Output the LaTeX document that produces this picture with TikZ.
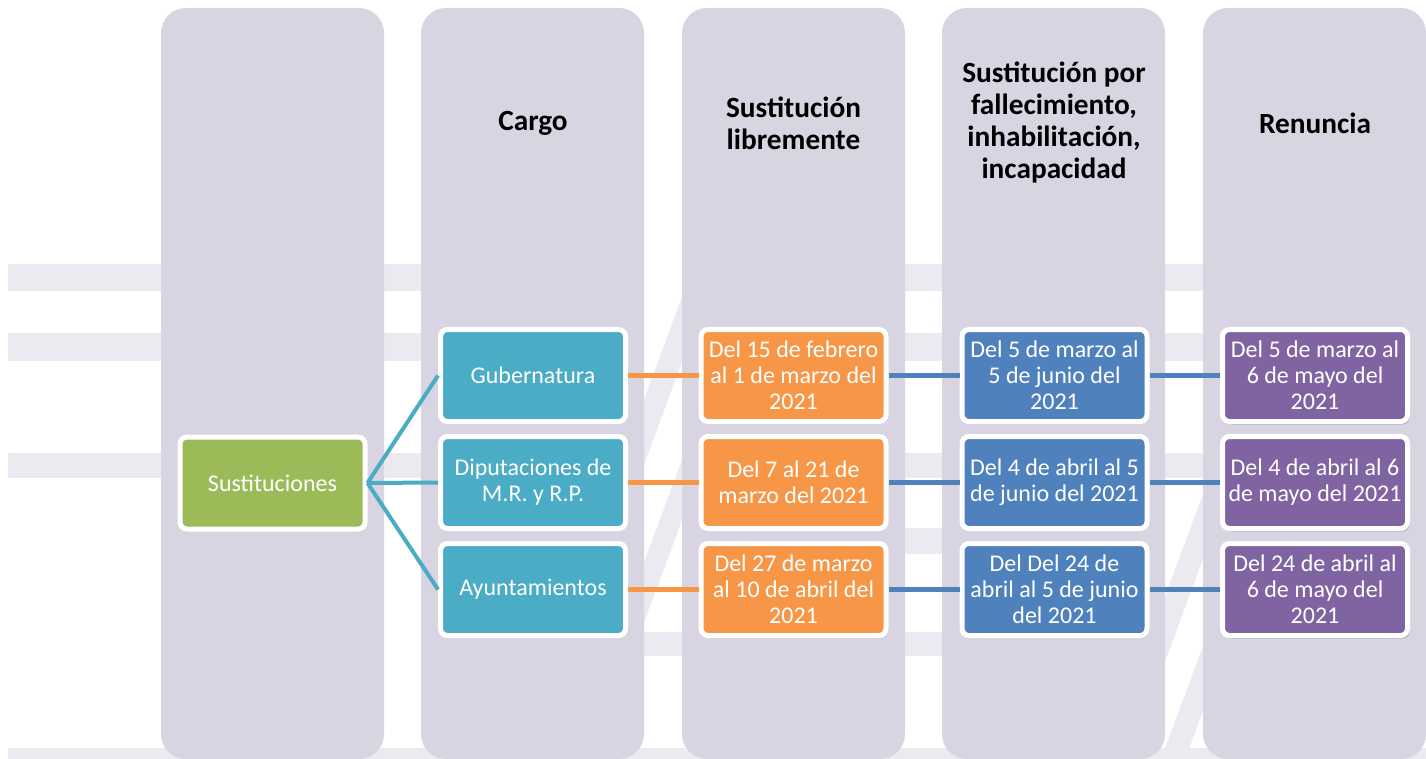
\documentclass[tikz,border=0pt]{standalone}
\usepackage{fontspec}
\setmainfont{Carlito}
\usetikzlibrary{shadows}

\definecolor{colbg}{HTML}{D8D4E2}
\definecolor{bandc}{HTML}{EDE9F1}
\definecolor{cgreen}{HTML}{9BBB59}
\definecolor{cteal}{HTML}{4BACC6}
\definecolor{corange}{HTML}{F79646}
\definecolor{cblue}{HTML}{4F81BD}
\definecolor{cpurple}{HTML}{8064A2}

\begin{document}
\begin{tikzpicture}[x=1pt,y=-1pt,
  colbox/.style={fill=colbg, rounded corners=25pt},
  bandh/.style={fill=bandc},
  hdr/.style={font=\fontsize{29.3}{32}\selectfont\bfseries, align=center, text=black},
  box/.style={draw=white, line width=5pt, rounded corners=7pt, minimum width=185pt, minimum height=92pt, align=center, text=white, font=\fontsize{24}{26}\selectfont, inner sep=0pt},
  gbox/.style={box, fill=cgreen},
  tbox/.style={box, fill=cteal},
  obox/.style={box, fill=corange},
  bbox/.style={box, fill=cblue},
  pbox/.style={box, fill=cpurple, drop shadow={shadow xshift=2pt, shadow yshift=-3pt, opacity=0.35, fill=black!60}},
  tline/.style={draw=cteal, line width=4pt},
  oline/.style={draw=corange, line width=5pt},
  bline/.style={draw=cblue, line width=5pt}
]
\useasboundingbox (0,0) rectangle (1426,759);
\fill[white] (0,0) rectangle (1426,759);

% background horizontal bands
\fill[bandh] (8,264) rectangle (640,291);
\fill[bandh] (690,264) rectangle (1426,291);
\fill[bandh] (8,333) rectangle (640,361);
\fill[bandh] (690,333) rectangle (1426,361);
\fill[bandh] (8,453) rectangle (640,478);
\fill[bandh] (690,453) rectangle (1426,478);
\fill[bandh] (690,528) rectangle (1160,554);
\fill[bandh] (640,632) rectangle (1165,656);
\fill[bandh] (8,748) rectangle (1426,759);

% background diagonal bands
\fill[bandh] (700,248.4) -- (625,450.9) -- (625,515.9) -- (700,313.4) -- cycle;
\fill[bandh] (700,411.4) -- (625,613.9) -- (625,673.9) -- (700,471.4) -- cycle;
\fill[bandh] (1220,448.1) -- (1150,637.1) -- (1150,702.1) -- (1220,513.1) -- cycle;
\fill[bandh] (1220,600.1) -- (1150,789.1) -- (1150,854.1) -- (1220,665.1) -- cycle;

% columns
\foreach \x in {161,421,682,942,1203}{
  \fill[colbox] (\x,8) rectangle ++(223,751);
}

% headers
\node[hdr] (h2) at (533,123) {Cargo};
\node[hdr] (h3) at (793.5,123) {Sustitución\\libremente};
\node[hdr] (h4) at (1054,123) {Sustitución por\\fallecimiento,\\inhabilitación,\\incapacidad};
\node[hdr] (h5) at (1315,123) {Renuncia};

% boxes
\node[gbox] (s) at (272.5,483) {Sustituciones};

\node[tbox] (t1) at (533,375.5) {Gubernatura};
\node[tbox] (t2) at (533,482.5) {Diputaciones de\\M.R. y R.P.};
\node[tbox] (t3) at (533,589.5) {Ayuntamientos};

\node[obox] (o1) at (793.5,375.5) {Del 15 de febrero\\al 1 de marzo del\\2021};
\node[obox] (o2) at (793.5,482.5) {Del 7 al 21 de\\marzo del 2021};
\node[obox] (o3) at (793.5,589.5) {Del 27 de marzo\\al 10 de abril del\\2021};

\node[bbox] (b1) at (1054.5,375.5) {Del 5 de marzo al\\5 de junio del\\2021};
\node[bbox] (b2) at (1054.5,482.5) {Del 4 de abril al 5\\de junio del 2021};
\node[bbox] (b3) at (1054.5,589.5) {Del Del 24 de\\abril al 5 de junio\\del 2021};

\node[pbox] (p1) at (1315,375.5) {Del 5 de marzo al\\6 de mayo del\\2021};
\node[pbox] (p2) at (1315,482.5) {Del 4 de abril al 6\\de mayo del 2021};
\node[pbox] (p3) at (1315,589.5) {Del 24 de abril al\\6 de mayo del\\2021};

% connectors
\draw[tline] (s.east) -- (t1.west);
\draw[tline] (s.east) -- (t2.west);
\draw[tline] (s.east) -- (t3.west);
\draw[oline] (t1.east) -- (o1.west);
\draw[oline] (t2.east) -- (o2.west);
\draw[oline] (t3.east) -- (o3.west);
\draw[bline] (o1.east) -- (b1.west);
\draw[bline] (o2.east) -- (b2.west);
\draw[bline] (o3.east) -- (b3.west);
\draw[bline] (b1.east) -- (p1.west);
\draw[bline] (b2.east) -- (p2.west);
\draw[bline] (b3.east) -- (p3.west);
\end{tikzpicture}
\end{document}
